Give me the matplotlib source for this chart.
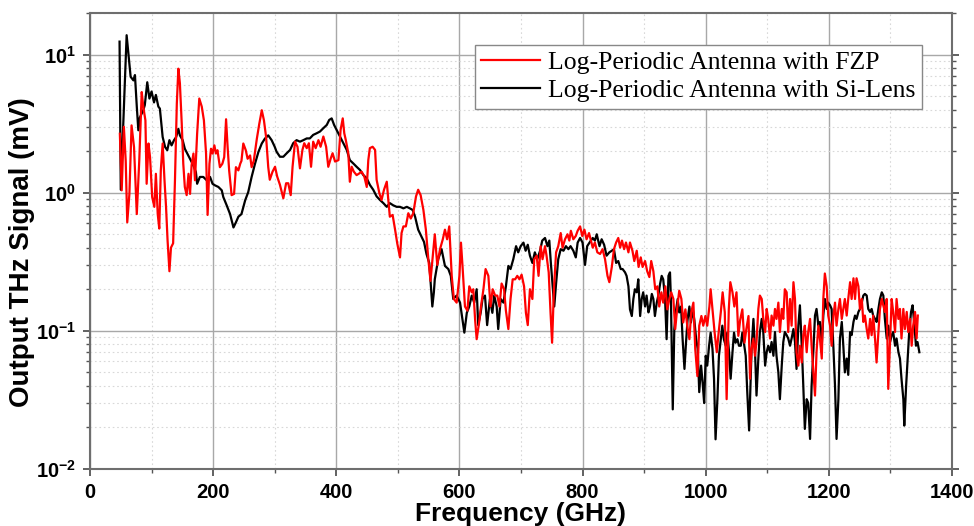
import matplotlib
matplotlib.use("Agg")
import matplotlib.pyplot as plt
from matplotlib.ticker import MultipleLocator, LogLocator, NullFormatter, FuncFormatter
import numpy as np

# Log-periodic antenna with Si-lens (black trace)
si_freq = [
    48, 50, 59.5, 66, 70.5, 73, 76, 78.5, 81, 86.5,
    89, 93, 96.5, 100, 104, 107, 111, 113.5, 118, 122,
    125.5, 129, 132.5, 136.5, 140, 143.5, 146, 150.5, 154, 158,
    161, 165, 169, 172, 174, 178.5, 184, 189.5, 195, 199,
    203, 208.5, 214, 216.5, 222, 227.5, 233, 237, 241, 246,
    252, 257, 262.5, 268, 273.5, 279, 284, 289.5, 295, 300,
    303, 308.5, 314, 319.5, 325, 330, 335.5, 341, 346.5, 352,
    357, 362.5, 368, 373.5, 379, 384.5, 388.5, 392.5, 396.5, 400.5,
    406, 411.5, 417, 422, 427.5, 433, 438.5, 444, 449.5, 454.5,
    460, 465.5, 471, 476.5, 482, 487, 492.5, 498, 503.5, 509,
    514.5, 519.5, 524, 528, 533, 538.5, 542.5, 546.5, 551, 553,
    556, 558.5, 560, 565.5, 571, 576.5, 582, 586, 590, 595.5,
    601, 605, 608, 612, 616, 620, 624, 628, 630.5, 634.5,
    637.5, 641.5, 645, 649.5, 653.5, 656.5, 660.5, 663, 667, 671.5,
    675.5, 679.5, 683, 687.5, 692, 695.5, 699.5, 704, 707.5, 711,
    714.5, 718.5, 722.5, 726.5, 731, 734.5, 739, 743, 746, 748.5,
    751.5, 754, 757, 760.5, 764.5, 769, 773, 777, 780.5, 785,
    789, 792, 796, 800, 804, 807.5, 812, 816.5, 820, 823,
    827.5, 831, 835, 839, 843.5, 847.5, 851, 854.5, 858, 862,
    865, 869, 871.5, 874.5, 877, 880, 882.5, 885, 888, 890.5,
    893.5, 896, 898.5, 901.5, 904, 907, 909.5, 912.5, 915, 917.5,
    920.5, 923, 926, 928.5, 931, 934, 936.5, 939.5, 942, 943.5,
    946.5, 949, 952, 954.5, 957, 960, 962.5, 965.5, 968, 970.5,
    973.5, 976, 979, 981.5, 984.5, 987, 989.5, 992.5, 995, 997.5,
    1000, 1002.5, 1005.5, 1008, 1011, 1013.5, 1016, 1019, 1021.5, 1024.5,
    1027, 1029.5, 1032.5, 1035, 1038, 1040.5, 1043.5, 1046, 1048.5, 1051.5,
    1054, 1057, 1059.5, 1062, 1065, 1067.5, 1070.5, 1074.5, 1077.5, 1080,
    1082.5, 1085.5, 1088, 1091, 1093.5, 1096.5, 1099, 1101.5, 1104.5, 1107,
    1110, 1112.5, 1115, 1118, 1120.5, 1123.5, 1126, 1128.5, 1131.5, 1134,
    1137, 1139.5, 1142.5, 1145, 1147.5, 1150.5, 1153, 1156, 1158.5, 1161,
    1164, 1166.5, 1169.5, 1172, 1175, 1177.5, 1180, 1183, 1185.5, 1188.5,
    1191, 1193.5, 1196.5, 1199, 1202, 1204.5, 1207.5, 1210, 1212.5, 1215.5,
    1218, 1221, 1223.5, 1226, 1229, 1231.5, 1234.5, 1237, 1240, 1242.5,
    1245, 1248, 1250.5, 1253.5, 1256, 1258.5, 1261.5, 1264, 1267, 1269.5,
    1272, 1275, 1277.5, 1280.5, 1283, 1286, 1288.5, 1291, 1294, 1296.5,
    1299.5, 1302, 1304.5, 1307.5, 1310, 1313, 1315.5, 1318, 1321, 1322.5,
    1325.5, 1328, 1330.5, 1333.5, 1336, 1339, 1341.5, 1344, 1347,
]
si_mv = [
    12.4, 1.05, 13.8, 6.9, 6.5, 7.1, 4.2, 2.83, 3.5, 3.95,
    4.3, 6.3, 4.8, 5.4, 4.5, 5.1, 4.2, 4.06, 2.53, 2.14,
    2.03, 2.4, 2.2, 2.4, 2.53, 2.9, 2.6, 2.4, 2.08, 1.92,
    1.81, 1.67, 1.53, 1.41, 1.16, 1.3, 1.3, 1.23, 1.3, 1.16,
    1.13, 1.1, 1.04, 0.93, 0.81, 0.70, 0.56, 0.61, 0.67, 0.70,
    0.88, 1.01, 1.3, 1.62, 1.97, 2.27, 2.46, 2.6, 2.4, 2.15,
    1.98, 1.82, 1.82, 1.93, 2.04, 2.28, 2.4, 2.34, 2.4, 2.47,
    2.47, 2.62, 2.69, 2.77, 2.93, 3.09, 3.36, 3.45, 3.09, 2.85,
    2.55, 2.28, 2.04, 1.72, 1.63, 1.54, 1.46, 1.34, 1.27, 1.14,
    1.05, 0.94, 0.885, 0.84, 0.79, 0.84, 0.81, 0.79, 0.79, 0.77,
    0.79, 0.77, 0.75, 0.67, 0.54, 0.48, 0.44, 0.36, 0.31, 0.23,
    0.15, 0.19, 0.236, 0.33, 0.39, 0.295, 0.28, 0.25, 0.17, 0.18,
    0.16, 0.12, 0.097, 0.135, 0.15, 0.18, 0.16, 0.2, 0.11, 0.135,
    0.17, 0.18, 0.11, 0.17, 0.135, 0.18, 0.15, 0.103, 0.17, 0.16,
    0.21, 0.295, 0.28, 0.33, 0.41, 0.37, 0.41, 0.435, 0.38, 0.42,
    0.35, 0.31, 0.37, 0.33, 0.38, 0.45, 0.47, 0.41, 0.45, 0.31,
    0.21, 0.15, 0.22, 0.33, 0.39, 0.38, 0.41, 0.39, 0.41, 0.38,
    0.34, 0.435, 0.47, 0.435, 0.30, 0.41, 0.44, 0.47, 0.45, 0.5,
    0.41, 0.46, 0.42, 0.35, 0.37, 0.38, 0.39, 0.31, 0.32, 0.28,
    0.28, 0.265, 0.25, 0.21, 0.143, 0.128, 0.17, 0.2, 0.19, 0.236,
    0.128, 0.17, 0.19, 0.15, 0.18, 0.136, 0.15, 0.185, 0.17, 0.128,
    0.16, 0.18, 0.22, 0.25, 0.236, 0.17, 0.087, 0.25, 0.265, 0.17,
    0.027, 0.103, 0.143, 0.17, 0.136, 0.15, 0.087, 0.053, 0.082, 0.12,
    0.15, 0.115, 0.143, 0.12, 0.087, 0.074, 0.036, 0.056, 0.042, 0.03,
    0.066, 0.056, 0.078, 0.097, 0.074, 0.045, 0.0164, 0.032, 0.066, 0.087,
    0.109, 0.087, 0.078, 0.097, 0.07, 0.045, 0.07, 0.097, 0.082, 0.087,
    0.078, 0.078, 0.097, 0.082, 0.066, 0.036, 0.019, 0.074, 0.122, 0.074,
    0.034, 0.063, 0.098, 0.122, 0.098, 0.056, 0.07, 0.078, 0.07, 0.083,
    0.066, 0.098, 0.066, 0.05, 0.032, 0.056, 0.083, 0.098, 0.093, 0.088,
    0.078, 0.088, 0.103, 0.083, 0.053, 0.109, 0.153, 0.078, 0.04, 0.0195,
    0.032, 0.03, 0.0165, 0.04, 0.074, 0.129, 0.144, 0.109, 0.116, 0.078,
    0.129, 0.17, 0.144, 0.16, 0.153, 0.144, 0.074, 0.04, 0.0165, 0.032,
    0.088, 0.116, 0.078, 0.05, 0.063, 0.048, 0.098, 0.093, 0.116, 0.129,
    0.122, 0.137, 0.144, 0.16, 0.18, 0.185, 0.18, 0.144, 0.137, 0.144,
    0.129, 0.122, 0.116, 0.144, 0.17, 0.19, 0.18, 0.122, 0.088, 0.109,
    0.083, 0.093, 0.098, 0.078, 0.088, 0.07, 0.063, 0.045, 0.032, 0.0206,
    0.04, 0.063, 0.098, 0.137, 0.153, 0.109, 0.078, 0.083, 0.07,
]

# Log-periodic antenna with FZP (red trace)
fzp_freq = [
    48.5, 51.5, 55, 58, 60.5, 64, 67.5, 71.5, 76, 80,
    84, 86.5, 90, 92, 95, 97.5, 101, 104.5, 107, 110,
    112.5, 115, 118, 121, 123.5, 126, 129, 131.5, 135, 138,
    141, 143.5, 146, 149, 151.5, 154, 157, 160, 162.5, 165,
    168, 170.5, 174, 177.5, 181.5, 185, 188.5, 191, 194, 196.5,
    199, 202, 204.5, 207, 211, 215, 218, 221, 223.5, 226,
    230, 234, 237, 241, 244, 246, 249, 253, 256, 260,
    262.5, 266, 271, 275, 279, 282.5, 286, 289.5, 292, 296.5,
    300.5, 304, 308.5, 314, 318.5, 322, 326, 329, 333, 337,
    341, 345, 348, 352, 355.5, 359, 362.5, 366.5, 371, 374.5,
    379, 383.5, 387, 391, 394, 398, 403.5, 407, 410.5, 413,
    415.5, 419.5, 422, 425, 428.5, 433, 437.5, 441, 445.5, 449.5,
    452, 454.5, 459, 463, 465.5, 470, 473.5, 477.5, 482, 484.5,
    487, 491.5, 495.5, 499, 503.5, 506, 509, 513, 517, 521,
    525, 529.5, 533, 537, 541.5, 545.5, 549.5, 553, 557, 560,
    564, 568.5, 573, 576.5, 580, 583.5, 587.5, 591, 595.5, 600,
    602.5, 605, 609, 613, 616, 620, 622.5, 625.5, 628, 632,
    635, 639, 642.5, 647, 650.5, 654, 658, 661.5, 665, 668.5,
    672.5, 675.5, 679.5, 683, 686.5, 690.5, 694, 697.5, 701, 705,
    708, 711, 714.5, 718.5, 721.5, 725.5, 728.5, 732, 735, 739,
    741.5, 745, 748, 750.5, 753.5, 757, 760.5, 764.5, 767.5, 771.5,
    775.5, 778.5, 781, 785, 789, 792, 796, 799.5, 803, 806.5,
    810.5, 816.5, 820, 824, 828.5, 832.5, 836.5, 840.5, 843.5, 847.5,
    851, 854.5, 858, 861, 864, 867.5, 870.5, 874.5, 877, 881,
    884, 888, 891, 894.5, 897.5, 901.5, 905, 908.5, 911.5, 915,
    918, 921.5, 924.5, 928, 931, 934.5, 937.5, 941, 944, 947.5,
    950.5, 954, 957, 960.5, 963.5, 967, 970, 973.5, 976.5, 980,
    983, 986.5, 989.5, 993, 996, 999.5, 1002.5, 1006, 1008, 1011.5,
    1014.5, 1018, 1021, 1024.5, 1027.5, 1031, 1034, 1037.5, 1040, 1043.5,
    1046.5, 1050, 1053, 1056, 1059.5, 1063, 1066, 1069.5, 1072, 1074.5,
    1077.5, 1080, 1082.5, 1085.5, 1088, 1091, 1093.5, 1096.5, 1099, 1101.5,
    1104.5, 1107, 1110, 1112.5, 1115, 1118, 1120.5, 1123.5, 1126, 1128.5,
    1131.5, 1134, 1137, 1139.5, 1142.5, 1145, 1147.5, 1150.5, 1153, 1156,
    1158.5, 1161, 1164, 1166.5, 1169.5, 1172, 1175, 1177.5, 1180, 1183,
    1185.5, 1188.5, 1191, 1193.5, 1196.5, 1199, 1202, 1204.5, 1207.5, 1210,
    1212.5, 1215.5, 1218, 1221, 1223.5, 1226, 1229, 1231.5, 1234.5, 1237,
    1240, 1242.5, 1245, 1248, 1250.5, 1253.5, 1256, 1258.5, 1261.5, 1264,
    1267, 1269.5, 1272, 1275, 1277.5, 1280.5, 1283, 1286, 1288.5, 1291,
    1294, 1296.5, 1299.5, 1302, 1304.5, 1307.5, 1310, 1313, 1315.5, 1318,
    1321, 1323.5, 1326.5, 1329, 1332, 1334.5, 1337, 1340, 1342.5, 1344.5,
]
fzp_mv = [
    2.67, 1.04, 3.0, 1.7, 0.61, 0.98, 3.07, 2.14, 0.70, 1.7,
    5.35, 4.2, 3.34, 1.16, 2.27, 1.81, 0.93, 0.79, 1.37, 0.70,
    0.55, 1.45, 2.27, 1.23, 0.79, 0.45, 0.27, 0.40, 0.43, 1.23,
    4.4, 7.9, 6.2, 3.16, 1.62, 1.1, 0.96, 1.37, 0.98, 1.58,
    1.92, 1.23, 2.67, 4.8, 4.2, 3.34, 1.92, 0.69, 1.62, 2.08,
    1.92, 2.2, 1.92, 2.03, 1.53, 1.62, 1.81, 3.4, 2.14, 1.45,
    0.96, 0.98, 1.53, 1.45, 1.62, 1.7, 2.27, 2.03, 1.76, 1.86,
    1.53, 1.7, 2.46, 3.16, 3.95, 3.34, 2.53, 1.53, 1.24, 1.42,
    1.54, 1.31, 1.14, 0.91, 1.17, 1.17, 0.96, 1.54, 2.34, 2.15,
    1.5, 2.04, 2.28, 2.1, 2.28, 1.54, 2.34, 2.1, 2.4, 2.15,
    2.55, 2.15, 1.54, 1.77, 1.93, 1.68, 1.72, 2.85, 3.45, 2.69,
    2.4, 1.93, 1.2, 1.54, 1.42, 1.34, 1.38, 1.42, 1.31, 1.1,
    1.72, 2.1, 2.15, 2.04, 1.24, 0.99, 0.885, 1.05, 1.2, 0.885,
    0.67, 0.69, 0.54, 0.43, 0.34, 0.51, 0.57, 0.57, 0.71, 0.65,
    0.71, 0.94, 1.05, 0.96, 0.75, 0.54, 0.33, 0.23, 0.36, 0.5,
    0.3, 0.39, 0.46, 0.54, 0.46, 0.57, 0.25, 0.17, 0.16, 0.25,
    0.435, 0.295, 0.15, 0.14, 0.21, 0.19, 0.2, 0.12, 0.087, 0.115,
    0.15, 0.2, 0.28, 0.25, 0.15, 0.2, 0.18, 0.18, 0.15, 0.22,
    0.2, 0.14, 0.103, 0.17, 0.236, 0.236, 0.25, 0.236, 0.255, 0.21,
    0.135, 0.11, 0.2, 0.17, 0.33, 0.35, 0.25, 0.41, 0.33, 0.41,
    0.35, 0.265, 0.135, 0.082, 0.2, 0.37, 0.41, 0.51, 0.40, 0.46,
    0.5, 0.45, 0.53, 0.46, 0.486, 0.53, 0.57, 0.486, 0.54, 0.46,
    0.51, 0.40, 0.436, 0.37, 0.36, 0.39, 0.33, 0.25, 0.225, 0.29,
    0.39, 0.436, 0.47, 0.40, 0.45, 0.39, 0.436, 0.37, 0.436, 0.38,
    0.32, 0.38, 0.29, 0.34, 0.29, 0.32, 0.27, 0.245, 0.32, 0.27,
    0.2, 0.21, 0.15, 0.19, 0.16, 0.21, 0.143, 0.17, 0.19, 0.17,
    0.103, 0.15, 0.195, 0.17, 0.115, 0.143, 0.109, 0.087, 0.136, 0.16,
    0.074, 0.047, 0.109, 0.128, 0.109, 0.128, 0.109, 0.15, 0.2, 0.136,
    0.097, 0.07, 0.097, 0.136, 0.19, 0.136, 0.032, 0.143, 0.225, 0.19,
    0.15, 0.19, 0.092, 0.12, 0.143, 0.082, 0.103, 0.128, 0.045, 0.074,
    0.088, 0.066, 0.083, 0.144, 0.18, 0.17, 0.122, 0.098, 0.144, 0.122,
    0.088, 0.129, 0.109, 0.144, 0.122, 0.16, 0.098, 0.144, 0.122, 0.2,
    0.19, 0.098, 0.17, 0.109, 0.225, 0.17, 0.07, 0.056, 0.078, 0.059,
    0.093, 0.109, 0.07, 0.098, 0.122, 0.078, 0.05, 0.034, 0.07, 0.109,
    0.088, 0.063, 0.17, 0.26, 0.21, 0.129, 0.109, 0.078, 0.129, 0.16,
    0.109, 0.144, 0.17, 0.122, 0.144, 0.17, 0.129, 0.17, 0.225, 0.17,
    0.24, 0.17, 0.24, 0.21, 0.144, 0.17, 0.116, 0.129, 0.103, 0.088,
    0.122, 0.093, 0.129, 0.088, 0.059, 0.098, 0.144, 0.17, 0.153, 0.137,
    0.17, 0.038, 0.088, 0.17, 0.137, 0.098, 0.17, 0.122, 0.144, 0.088,
    0.144, 0.103, 0.137, 0.098, 0.122, 0.078, 0.109, 0.137, 0.088, 0.129,
]

labels = ["Log-Periodic Antenna with FZP", "Log-Periodic Antenna with Si-Lens"]

plt.rcParams['font.family'] = ['Liberation Sans', 'DejaVu Sans']
plt.rcParams['mathtext.fontset'] = 'custom'
plt.rcParams['mathtext.rm'] = 'Liberation Sans:bold'
plt.rcParams['mathtext.bf'] = 'Liberation Sans:bold'
plt.rcParams['mathtext.it'] = 'Liberation Sans:bold'


def decade_label(v, pos):
    e = int(round(np.log10(v)))
    return r'$\mathbf{10^{%d}}$' % e


fig = plt.figure(figsize=(9.74, 5.26), dpi=100)
ax = fig.add_axes([0.0924, 0.1084, 0.885, 0.867])

l_si, = ax.plot(si_freq, si_mv, color='black', lw=1.6, label=labels[1])
l_fzp, = ax.plot(fzp_freq, fzp_mv, color='#ff0000', lw=1.6, label=labels[0])

ax.set_yscale('log')
ax.set_xlim(0, 1400)
ax.set_ylim(0.01, 20)

ax.xaxis.set_major_locator(MultipleLocator(200))
ax.xaxis.set_minor_locator(MultipleLocator(100))
ax.yaxis.set_major_locator(LogLocator(base=10, numticks=10))
ax.yaxis.set_major_formatter(FuncFormatter(decade_label))
ax.yaxis.set_minor_locator(LogLocator(base=10, subs=range(2, 10), numticks=20))
ax.yaxis.set_minor_formatter(NullFormatter())

ax.grid(which='major', color='#a8a8a8', lw=1.0, ls='-')
ax.grid(which='minor', color='#d8d8d8', lw=0.8, ls=(0, (1.5, 2.5)))
ax.set_axisbelow(True)

for s in ax.spines.values():
    s.set_color('#6e6e6e')
    s.set_linewidth(1.5)

ax.tick_params(which='both', direction='out', colors='#555555', labelcolor='black',
               top=False, right=True)
ax.tick_params(which='major', length=5, width=1.3, labelsize=14.5, pad=5)
ax.tick_params(which='minor', length=3, width=1.0)
for t in ax.get_xticklabels():
    t.set_fontweight('bold')

ax.set_xlabel('Frequency (GHz)', fontsize=19, fontweight='bold', labelpad=0)
ax.set_ylabel('Output THz Signal (mV)', fontsize=20, fontweight='bold')
ax.yaxis.set_label_coords(-0.064, 0.476)

leg = ax.legend(handles=[l_fzp, l_si], loc='upper right', bbox_to_anchor=(0.965, 0.93),
                prop={'family': 'Liberation Serif', 'size': 18.5},
                fancybox=False, framealpha=1, edgecolor='#888888',
                handlelength=2.3, handletextpad=0.3, borderpad=0.25, labelspacing=0.2,
                borderaxespad=0.0)
leg.get_frame().set_linewidth(1.0)

fig.savefig('out.png', dpi=100)
plt.close(fig)
